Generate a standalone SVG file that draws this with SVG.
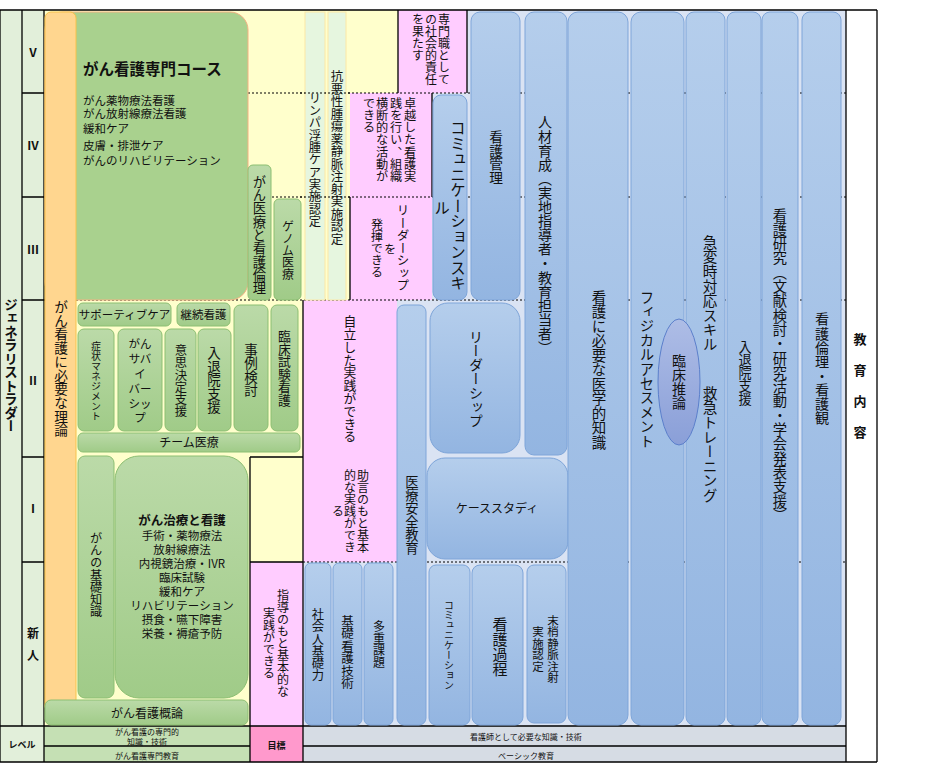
<svg xmlns="http://www.w3.org/2000/svg" width="930" height="774" viewBox="0 0 930 774">
<defs>
<linearGradient id="gb" x1="0" y1="0" x2="0" y2="1"><stop offset="0" stop-color="#B5CEEC"/><stop offset="1" stop-color="#93B5E1"/></linearGradient>
<linearGradient id="gg" x1="0" y1="0" x2="0" y2="1"><stop offset="0" stop-color="#BBDAA8"/><stop offset="1" stop-color="#A0CB88"/></linearGradient>
<linearGradient id="ge" x1="0" y1="0" x2="0" y2="1"><stop offset="0" stop-color="#AEBDE6"/><stop offset="1" stop-color="#8A9FD8"/></linearGradient>
</defs>
<style>
.t{font-family:"Noto Sans CJK JP","Noto Sans CJK SC",sans-serif;fill:#111}
.v{writing-mode:vertical-rl}
.m{text-anchor:middle}
.b{font-weight:bold}
.bl{fill:url(#gb);stroke:#7EA5D9;stroke-width:1}
.gr{fill:url(#gg);stroke:#8CBF72;stroke-width:1}
.st{fill:#E6F6DF;stroke:#FBE8A6;stroke-width:1}
.dot{stroke:#000;stroke-width:1;stroke-dasharray:2 2;fill:none}
.ln{stroke:#000;stroke-width:1.3;fill:none}
</style>
<rect width="930" height="774" fill="#fff"/>
<g id="background">
<rect x="0" y="10" width="44" height="716" fill="#E2EFDA"/>
<rect x="44" y="10" width="306" height="290" fill="#FFFFCC"/>
<rect x="350" y="10" width="48" height="83" fill="#FFFFCC"/>
<rect x="44" y="300" width="259" height="426" fill="#FFFFCC"/>
<rect x="398" y="10" width="69" height="83" fill="#FFCCFF"/>
<rect x="350" y="93" width="82" height="207" fill="#FFCCFF"/>
<rect x="303" y="300" width="94" height="262" fill="#FFCCFF"/>
<rect x="250" y="562" width="53" height="164" fill="#FFCCFF"/>
<rect x="467" y="10" width="379" height="83" fill="#DAE3F3"/>
<rect x="432" y="93" width="414" height="207" fill="#DAE3F3"/>
<rect x="397" y="300" width="449" height="262" fill="#DAE3F3"/>
<rect x="303" y="562" width="543" height="164" fill="#DAE3F3"/>
<rect x="0" y="726" width="44" height="36" fill="#E2EFDA"/>
<rect x="44" y="726" width="206" height="36" fill="#C5E0B4"/>
<rect x="250" y="726" width="53" height="36" fill="#FF99CC"/>
<rect x="303" y="726" width="543" height="36" fill="#D6DCE4"/>
</g>
<g id="grid">
<path class="dot" d="M248 93H846M248 197H846M44 300H846M303 562H846"/>
</g>
<g id="strip-lymph"><rect class="st" x="305" y="12" width="20" height="288"/>
<text class="t v" x="315" y="92" font-size="12.3">リンパ浮腫ケア実施認定</text></g>
<g id="strip-chemo"><rect class="st" x="328" y="12" width="18" height="288"/>
<text class="t v" x="337" y="70" font-size="12.5">抗悪性腫瘍薬静脈注射実施認定</text></g>
<path class="dot" d="M300 93H350M300 197H350"/>
<g id="frame">
<path class="ln" d="M0 10H877M0 10V762M22 10V726M44 10V762M846 10V762M877 10V762M0 726H846M44 746H250M303 746H846M0 762H877M250 726V762M303 726V762"/>
<path class="ln" d="M22 93H44M22 197H44M22 300H44M22 457H44M22 562H44"/>
<path class="ln" d="M303 300V726M250 457V726M250 457H303M250 562H303M398 10V93M467 10V93M432 93V197M350 197V300"/>
</g>
<g id="ladder-labels">
<text class="t v b" x="11" y="298" font-size="13.5">ジェネラリストラダー</text>
<text class="t m b" x="33" y="57" font-size="12">Ⅴ</text>
<text class="t m b" x="33" y="150" font-size="12">Ⅳ</text>
<text class="t m b" x="33" y="254" font-size="12">Ⅲ</text>
<text class="t m b" x="33" y="385" font-size="12">Ⅱ</text>
<text class="t m b" x="33" y="513" font-size="12">Ⅰ</text>
<text class="t m b" x="33" y="638" font-size="12">新</text>
<text class="t m b" x="33" y="660" font-size="12">人</text>
</g>
<g id="course">
<rect x="45" y="12" width="203" height="288" rx="18" fill="#A9D18E" stroke="#F4B183" stroke-width="1"/>
<text class="t b" x="83" y="75" font-size="15.5">がん看護専門コース</text>
<text class="t" x="83" y="105" font-size="11.5">がん薬物療法看護</text>
<text class="t" x="83" y="118" font-size="11.5">がん放射線療法看護</text>
<text class="t" x="83" y="133" font-size="11.5">緩和ケア</text>
<text class="t" x="83" y="150" font-size="11.5">皮膚・排泄ケア</text>
<text class="t" x="83" y="165" font-size="11.5">がんのリハビリテーション</text>
</g>
<g id="theory">
<rect x="45" y="12" width="31" height="700" rx="6" fill="#FFD68F" stroke="#F7C24A" stroke-width="1"/>
<text class="t v" x="61" y="300" font-size="13.7">がん看護に必要な理論</text>
</g>
<g id="ethics"><rect class="gr" x="248" y="165" width="23" height="135" rx="5"/>
<text class="t v" x="259.5" y="175" font-size="13.3">がん医療と看護倫理</text></g>
<g id="genome"><rect class="gr" x="274" y="199" width="27" height="101" rx="5"/>
<text class="t v" x="288" y="220" font-size="12">ゲノム医療</text></g>
<g id="supportive"><rect class="gr" x="78" y="303" width="93" height="23" rx="5"/>
<text class="t m" x="124.5" y="319" font-size="11.5">サポーティブケア</text></g>
<g id="continuing"><rect class="gr" x="177" y="303" width="53" height="23" rx="5"/>
<text class="t m" x="203.5" y="319" font-size="11.5">継続看護</text></g>
<g id="symptom"><rect class="gr" x="78" y="329" width="36" height="102" rx="6"/>
<text class="t v m" x="96" y="381" font-size="10">症状マネジメント</text></g>
<g id="survivorship"><rect class="gr" x="118" y="329" width="44" height="102" rx="6"/>
<text class="t m" x="140" font-size="11.5"><tspan x="140" y="347.5">がん</tspan><tspan x="140" y="363">サバ</tspan><tspan x="140" y="377.5">イ</tspan><tspan x="140" y="392.5">バー</tspan><tspan x="140" y="407.5">シッ</tspan><tspan x="140" y="421.5">プ</tspan></text></g>
<g id="decision"><rect class="gr" x="165" y="329" width="31" height="102" rx="6"/>
<text class="t v m" x="181" y="381" font-size="12.3">意思決定支援</text></g>
<g id="discharge-l"><rect class="gr" x="198" y="329" width="33" height="102" rx="6"/>
<text class="t v m" x="214" y="380" font-size="13.5">入退院支援</text></g>
<g id="casereview"><rect class="gr" x="234" y="305" width="34" height="126" rx="6"/>
<text class="t v m" x="251" y="370" font-size="13.5">事例検討</text></g>
<g id="trialnursing"><rect class="gr" x="271" y="305" width="27" height="126" rx="6"/>
<text class="t v m" x="284.5" y="368" font-size="12.8">臨床試験看護</text></g>
<g id="team"><rect class="gr" x="78" y="433" width="222" height="19" rx="5"/>
<text class="t m" x="189" y="447" font-size="12">チーム医療</text></g>
<g id="basics"><rect class="gr" x="78" y="456" width="36" height="242" rx="7"/>
<text class="t v m" x="96" y="575" font-size="12.2">がんの基礎知識</text></g>
<g id="treatment"><rect class="gr" x="115" y="456" width="133" height="242" rx="24"/>
<text class="t m b" x="182" y="525" font-size="12.5">がん治療と看護</text>
<text class="t m" x="182" y="540" font-size="11.5">手術・薬物療法</text>
<text class="t m" x="182" y="554" font-size="11.5">放射線療法</text>
<text class="t m" x="182" y="568" font-size="11.5">内視鏡治療・IVR</text>
<text class="t m" x="182" y="582" font-size="11.5">臨床試験</text>
<text class="t m" x="182" y="596" font-size="11.5">緩和ケア</text>
<text class="t m" x="182" y="609.5" font-size="11.5">リハビリテーション</text>
<text class="t m" x="182" y="623.5" font-size="11.5">摂食・嚥下障害</text>
<text class="t m" x="182" y="637.5" font-size="11.5">栄養・褥瘡予防</text></g>
<g id="overview"><rect class="gr" x="45" y="700" width="203" height="25" rx="6"/>
<text class="t m" x="147" y="717.5" font-size="12">がん看護概論</text></g>
<g id="goal-guided">
<text class="t v m" x="283" y="643" font-size="12">指導のもと基本的な</text>
<text class="t v m" x="269" y="643" font-size="12">実践ができる</text></g>
<g id="goal-social">
<text class="t v" x="444" y="13" font-size="12">専門職として</text>
<text class="t v" x="431" y="13" font-size="12">の社会的責任</text>
<text class="t v" x="418" y="13" font-size="12">を果たす</text></g>
<g id="goal-excellence">
<text class="t v" x="410" y="97" font-size="12.2">卓越した看護実</text>
<text class="t v" x="396" y="97" font-size="12.2">践を行い、組織</text>
<text class="t v" x="382" y="97" font-size="12.2">横断的な活動が</text>
<text class="t v" x="369" y="97" font-size="12.2">できる</text></g>
<g id="goal-leader">
<text class="t v m" x="403" y="248" font-size="12.5">リーダーシップ</text>
<text class="t v m" x="390" y="249" font-size="12">を</text>
<text class="t v m" x="377" y="248" font-size="12">発揮できる</text></g>
<g id="goal-independent">
<text class="t v" x="350" y="315" font-size="12.8">自立した実践ができる</text></g>
<g id="goal-advice">
<text class="t v m" x="363" y="511" font-size="12">助言のもと基本</text>
<text class="t v m" x="350" y="511" font-size="12">的な実践ができ</text>
<text class="t v m" x="338" y="511" font-size="12">る</text></g>
<g id="commskill"><rect class="bl" x="433" y="95" width="34" height="205" rx="8"/>
<text class="t v m" x="458" y="206" font-size="15.5">コミュニケーションスキ</text>
<text class="t v m" x="442" y="208" font-size="15.5">ル</text></g>
<g id="management"><rect class="bl" x="471" y="12" width="49" height="288" rx="9"/>
<text class="t v" x="496" y="130" font-size="13.7">看護管理</text></g>
<g id="hrdev"><rect class="bl" x="525" y="12" width="42" height="443" rx="9"/>
<text class="t v" x="545" y="115" font-size="14.1">人材育成（実地指導者・教育担当者）</text></g>
<g id="leadership"><rect class="bl" x="430" y="303" width="90" height="150" rx="18"/>
<text class="t v" x="476" y="330" font-size="14">リーダーシップ</text></g>
<g id="casestudy"><rect class="bl" x="427" y="458" width="141" height="101" rx="18"/>
<text class="t m" x="497" y="513" font-size="12">ケーススタディ</text></g>
<g id="safety"><rect class="bl" x="397" y="305" width="29" height="420" rx="7"/>
<text class="t v m" x="412" y="515" font-size="13.3">医療安全教育</text></g>
<g id="social"><rect class="bl" x="305" y="563" width="26" height="162" rx="6"/>
<text class="t v m" x="318" y="645" font-size="12.3">社会人基礎力</text></g>
<g id="basicskill"><rect class="bl" x="333" y="563" width="29" height="162" rx="6"/>
<text class="t v m" x="347.5" y="652" font-size="12.5">基礎看護技術</text></g>
<g id="multitask"><rect class="bl" x="364" y="563" width="29" height="162" rx="6"/>
<text class="t v m" x="379" y="644" font-size="12">多重課題</text></g>
<g id="comm"><rect class="bl" x="429" y="565" width="41" height="160" rx="7"/>
<text class="t v m" x="449" y="645" font-size="10">コミュニケーション</text></g>
<g id="process"><rect class="bl" x="472" y="565" width="51" height="160" rx="8"/>
<text class="t v m" x="500" y="647" font-size="15">看護過程</text></g>
<g id="iv"><rect class="bl" x="527" y="565" width="39" height="158" rx="7"/>
<text class="t v m" x="553" y="649" font-size="11.5">末梢静脈注射</text>
<text class="t v m" x="538" y="649" font-size="11.5">実施認定</text></g>
<g id="medknow"><rect class="bl" x="568" y="12" width="60" height="713" rx="10"/>
<text class="t v" x="599" y="290" font-size="14.5">看護に必要な医学的知識</text></g>
<g id="physical"><rect class="bl" x="631" y="12" width="53" height="713" rx="10"/>
<text class="t v" x="647" y="290" font-size="14.4">フィジカルアセスメント</text></g>
<g id="emergency"><rect class="bl" x="686" y="12" width="39" height="713" rx="8"/>
<text class="t v" x="710" y="235" font-size="14.6">急変時対応スキル</text>
<text class="t v" x="710" y="386" font-size="14.6">救急トレーニング</text></g>
<g id="reasoning"><ellipse cx="679" cy="382" rx="21" ry="63" fill="url(#ge)" stroke="#5B7FCB" stroke-width="1"/>
<text class="t v m" x="679" y="382" font-size="14">臨床推論</text></g>
<g id="discharge-r"><rect class="bl" x="727" y="12" width="34" height="713" rx="8"/>
<text class="t v" x="745" y="340" font-size="13.2">入退院支援</text></g>
<g id="research"><rect class="bl" x="762" y="12" width="36" height="713" rx="8"/>
<text class="t v" x="780" y="208" font-size="14.3">看護研究（文献検討・研究活動・学会発表支援）</text></g>
<g id="nethics"><rect class="bl" x="802" y="12" width="39" height="713" rx="8"/>
<text class="t v" x="822" y="312" font-size="14.1">看護倫理・看護観</text></g>
<g id="content-label">
<text class="t v b" x="860" y="333" font-size="13" letter-spacing="18">教育内容</text></g>
<g id="bottom-bar">
<text class="t m b" x="22" y="747.5" font-size="9">レベル</text>
<text class="t m" x="147" y="735" font-size="8">がん看護の専門的</text>
<text class="t m" x="147" y="745" font-size="8">知識・技術</text>
<text class="t m" x="147" y="758.5" font-size="8">がん看護専門教育</text>
<text class="t m b" x="276.5" y="748.5" font-size="9">目標</text>
<text class="t m" x="526" y="740" font-size="8">看護師として必要な知識・技術</text>
<text class="t m" x="526" y="758.5" font-size="8">ベーシック教育</text>
</g>
</svg>
